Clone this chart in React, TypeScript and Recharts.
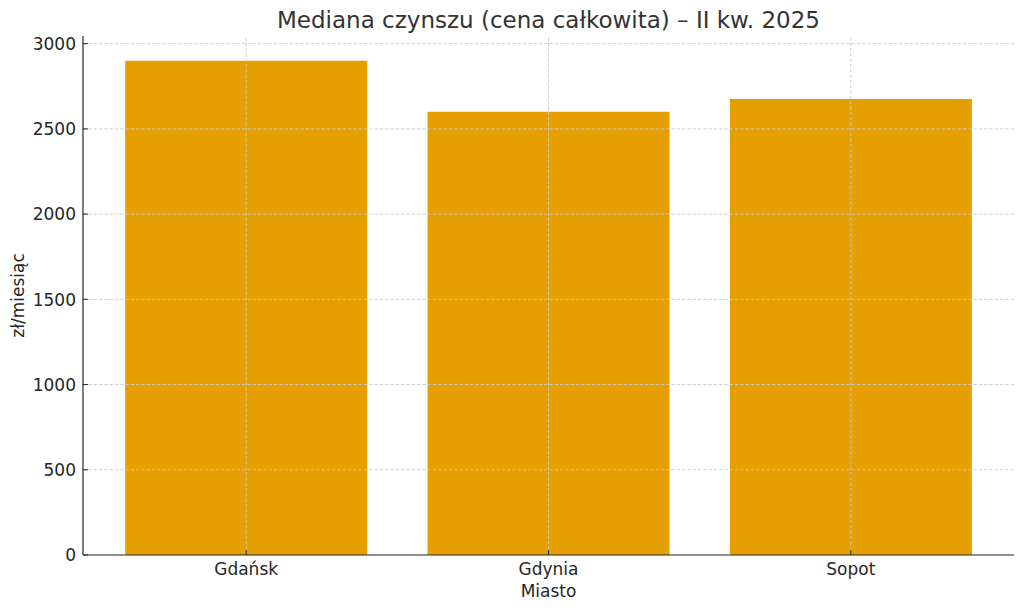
import React from 'react';
import { BarChart, Bar, XAxis, YAxis, ReferenceLine, Label } from 'recharts';

const cities = ['Gdańsk', 'Gdynia', 'Sopot'];
const medianRent = [2900, 2600, 2675];
const yTicks = [0, 500, 1000, 1500, 2000, 2500, 3000];
const title = 'Mediana czynszu (cena całkowita) – II kw. 2025';
const xLabel = 'Miasto';
const yLabel = 'zł/miesiąc';

const data = cities.map((c, i) => ({ city: c, value: medianRent[i] }));

const FONT = '"DejaVu Sans", sans-serif';
const TEXT = '#262626';
const GRID = '#cbcbcb';
const FS = 17;

const YTick = (props: any) => {
  const { x, y, payload } = props;
  return (
    <g>
      <line x1={x} x2={x + 5} y1={y} y2={y} stroke={TEXT} strokeWidth={1} />
      <text x={x - 7} y={y} dy={6.2} textAnchor="end" fontSize={FS} fontFamily={FONT} fill={TEXT}>
        {payload.value}
      </text>
    </g>
  );
};

const XTick = (props: any) => {
  const { x, y, payload } = props;
  return (
    <g>
      <line x1={x} x2={x} y1={y} y2={y - 5} stroke={TEXT} strokeWidth={1} />
      <text x={x} y={y + 19.5} textAnchor="middle" fontSize={FS} fontFamily={FONT} fill={TEXT}>
        {payload.value}
      </text>
    </g>
  );
};

export default function App() {
  return (
    <div style={{ position: 'absolute', top: 0, left: 0, width: 1024, height: 611, background: '#fff' }}>
      <BarChart
        width={1024}
        height={611}
        data={data}
        margin={{ top: 36, right: 10, left: 0, bottom: 0 }}
        barCategoryGap="10%"
      >
        <XAxis
          dataKey="city"
          height={56}
          padding={{ left: 12, right: 12 }}
          tickSize={0}
          tickMargin={0}
          tickLine={false}
          axisLine={{ stroke: TEXT, strokeWidth: 1.2 }}
          tick={<XTick />}
          interval={0}
        >
          <Label
            content={(p: any) => {
              const vb = p.viewBox;
              return (
                <text x={vb.x + vb.width / 2} y={vb.y + 42} textAnchor="middle" fontSize={FS} fontFamily={FONT} fill={TEXT}>
                  {xLabel}
                </text>
              );
            }}
          />
        </XAxis>
        <YAxis
          width={83}
          domain={[0, 3045]}
          ticks={yTicks}
          allowDataOverflow
          tickSize={0}
          tickMargin={0}
          tickLine={false}
          axisLine={{ stroke: TEXT, strokeWidth: 1.2 }}
          tick={<YTick />}
        >
          <Label
            content={(p: any) => {
              const vb = p.viewBox;
              const cx = vb.x + 18;
              const cy = vb.y + vb.height / 2;
              return (
                <text x={cx} y={cy} transform={`rotate(-90, ${cx}, ${cy})`} textAnchor="middle" dominantBaseline="central" fontSize={FS} fontFamily={FONT} fill={TEXT}>
                  {yLabel}
                </text>
              );
            }}
          />
        </YAxis>
        <Bar dataKey="value" fill="#E69F00" isAnimationActive={false} />
        {yTicks.slice(1).map((t) => (
          <ReferenceLine key={'h' + t} y={t} stroke={GRID} strokeDasharray="3.5 1.8" strokeWidth={0.9} />
        ))}
        {cities.map((c) => (
          <ReferenceLine key={'v' + c} x={c} stroke={GRID} strokeDasharray="3.5 1.8" strokeWidth={0.9} />
        ))}
      </BarChart>
      <svg width={1024} height={40} style={{ position: 'absolute', top: 0, left: 0 }}>
        <text x={548.5} y={28} textAnchor="middle" fontSize={23} fontFamily={FONT} fill="#333333">
          {title}
        </text>
      </svg>
    </div>
  );
}
